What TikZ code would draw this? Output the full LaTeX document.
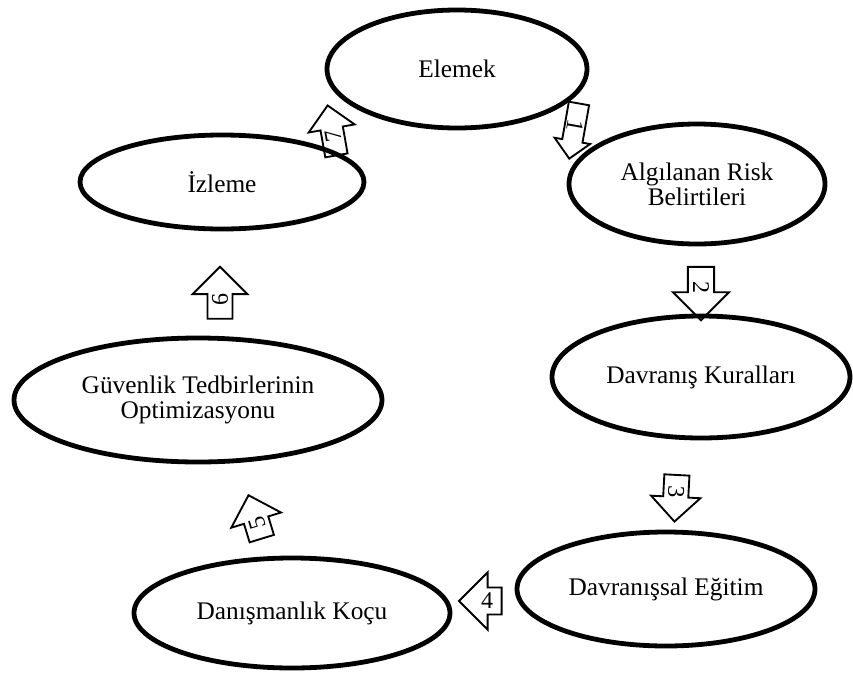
\documentclass[tikz,border=0pt]{standalone}
\usepackage{fontspec}
\setmainfont{Liberation Serif}
\usetikzlibrary{shapes.geometric,shapes.arrows}

\begin{document}
\begin{tikzpicture}[x=0.75pt, y=-0.75pt,
  phase/.style = {draw, ellipse, line width=3.6pt, align=center, inner sep=0pt, font=\fontsize{19}{19}\selectfont},
  num/.style = {draw, single arrow, line width=1.4pt, inner sep=0pt, font=\fontsize{18}{18}\selectfont}]
  \useasboundingbox (0,0) rectangle (853,675);
  % ellipses
  \node[phase, minimum width=195pt, minimum height=88.5pt] (elemek) at (457,69) {Elemek};
  \node[phase, minimum width=192pt, minimum height=90pt] (risk) at (697,184) {Algılanan Risk\\Belirtileri};
  \node[phase, minimum width=223.5pt, minimum height=91.5pt] (kural) at (701,377) {Davranış Kuralları};
  \node[phase, minimum width=223.5pt, minimum height=85.5pt] (egitim) at (666,589) {Davranışsal Eğitim};
  \node[phase, minimum width=237pt, minimum height=82.5pt] (koc) at (292,613) {Danışmanlık Koçu};
  \node[phase, minimum width=276pt, minimum height=93pt] (optim) at (198,400) {Güvenlik Tedbirlerinin\\Optimizasyonu};
  \node[phase, minimum width=213pt, minimum height=70.5pt] (izleme) at (222,182) {İzleme};
  % numbered arrows
  \node[num, rotate=-100, minimum height=42pt, minimum width=27pt, single arrow head extend=5pt] (a1) at (575,126) {1};
  \node[num, rotate=-90, minimum height=40pt, minimum width=42pt, single arrow head extend=7.5pt] (a2) at (701,287) {2};
  \node[num, rotate=-93, minimum height=35pt, minimum width=37pt, single arrow head extend=6.5pt] (a3) at (676,492) {3};
  \node[num, shape border rotate=180, minimum height=32pt, minimum width=43pt, single arrow head extend=7.5pt] (a4) at (487,601) {4};
  \node[num, rotate=107, minimum height=34pt, minimum width=39pt, single arrow head extend=7pt] (a5) at (257,523) {5};
  \node[num, rotate=90, minimum height=39pt, minimum width=41pt, single arrow head extend=8pt] (a6) at (220,299) {6};
  \node[num, rotate=100, minimum height=38pt, minimum width=35pt, single arrow head extend=7pt] (a7) at (333,136) {7};
\end{tikzpicture}
\end{document}
